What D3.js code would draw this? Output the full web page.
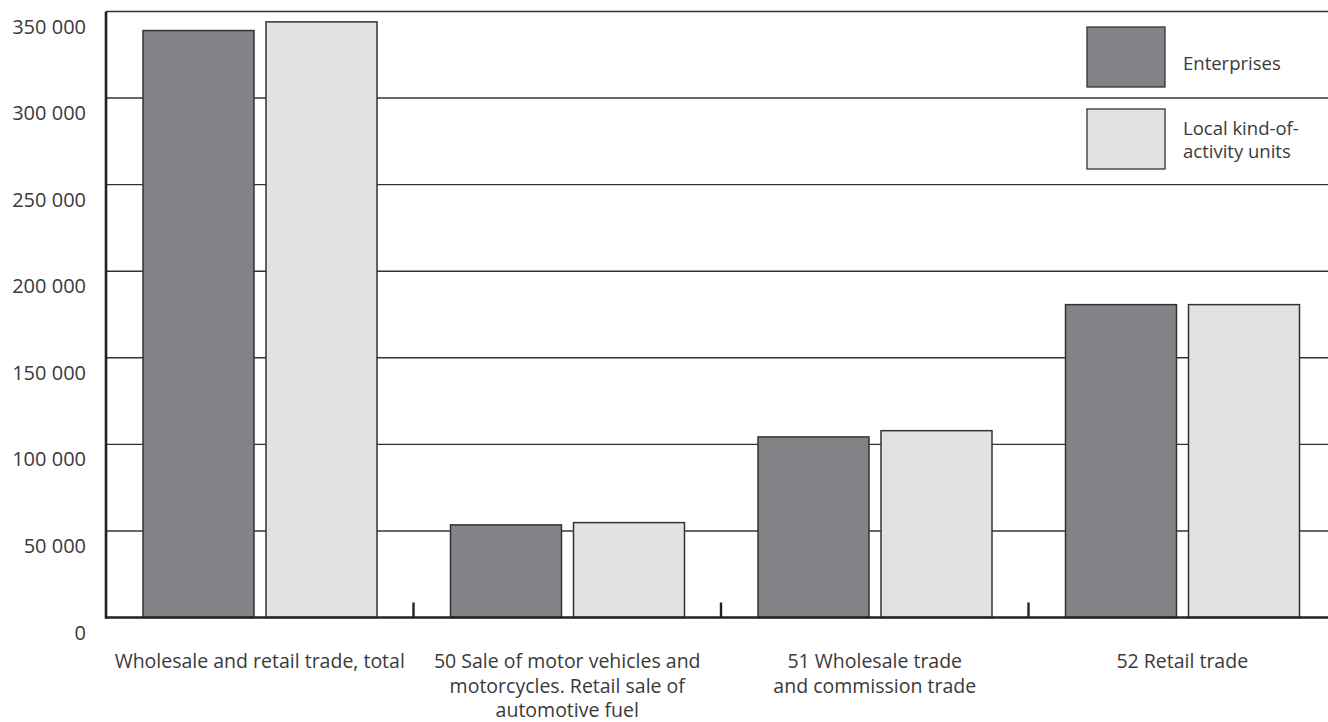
<!DOCTYPE html>
<html>
<head>
<meta charset="utf-8">
<script src="https://cdn.jsdelivr.net/npm/d3@7"></script>
<style>
  body { margin: 0; background: #fff; }
  text { font-family: "Open Sans", "Noto Sans", sans-serif; fill: #3a3a3a; }
</style>
</head>
<body>
<div id="chart"></div>
<script>
// Data
const categories = ["total", "50", "51", "52"];
const categoryLabels = [
  ["Wholesale and retail trade, total"],
  ["50 Sale of motor vehicles and", "motorcycles. Retail sale of", "automotive fuel"],
  ["51 Wholesale trade", "and commission trade"],
  ["52 Retail trade"]
];
const enterprises = [339000, 53500, 104300, 180700];
const localUnits = [344000, 54800, 107900, 180700];
const seriesNames = ["Enterprises", "Local kind-of-activity units"];
const legendLines = [["Enterprises"], ["Local kind-of-", "activity units"]];
const yTicks = [0, 50000, 100000, 150000, 200000, 250000, 300000, 350000];

const width = 1328, height = 722;
const margin = { top: 11.5, left: 106, bottom: 104.5 };
const plotRight = 1336;

const svg = d3.select("#chart").append("svg")
  .attr("width", width)
  .attr("height", height);

const x = d3.scaleBand().domain(categories).range([margin.left, plotRight]);
const sub = d3.scaleBand().domain(["ent", "loc"]).range([37, 271]).paddingInner(0.0976);
const y = d3.scaleLinear().domain([0, 350000]).range([height - margin.bottom, margin.top]);

const colors = { ent: "#828387", loc: "#e1e2e4" };

// gridlines (including top border)
svg.append("g").selectAll("line")
  .data(yTicks.filter(d => d > 0))
  .enter().append("line")
  .attr("x1", margin.left).attr("x2", plotRight)
  .attr("y1", d => y(d)).attr("y2", d => y(d))
  .attr("stroke", "#333").attr("stroke-width", 1.4);

// y labels
const fmt = d => d3.format(",")(d).replace(/,/g, " ");
svg.append("g").selectAll("text")
  .data(yTicks)
  .enter().append("text")
  .attr("x", 86)
  .attr("y", d => y(d) + 22)
  .attr("text-anchor", "end")
  .attr("font-size", "20px")
  .text(fmt);

// bars
const rows = categories.map((c, i) => ({ cat: c, ent: enterprises[i], loc: localUnits[i] }));
const groups = svg.append("g").selectAll("g")
  .data(rows)
  .enter().append("g")
  .attr("transform", d => "translate(" + x(d.cat) + ",0)");

groups.selectAll("rect")
  .data(d => ["ent", "loc"].map(k => ({ key: k, value: d[k] })))
  .enter().append("rect")
  .attr("x", d => sub(d.key))
  .attr("width", sub.bandwidth())
  .attr("y", d => y(d.value))
  .attr("height", d => y(0) - y(d.value))
  .attr("fill", d => colors[d.key])
  .attr("stroke", "#333")
  .attr("stroke-width", 1.5);

// axes
svg.append("line")
  .attr("x1", margin.left).attr("x2", margin.left)
  .attr("y1", y(350000)).attr("y2", y(0) + 1)
  .attr("stroke", "#222").attr("stroke-width", 2.6);
svg.append("line")
  .attr("x1", margin.left - 1).attr("x2", plotRight)
  .attr("y1", y(0)).attr("y2", y(0))
  .attr("stroke", "#222").attr("stroke-width", 2.6);

// category separator ticks
svg.append("g").selectAll("line")
  .data(categories.slice(1))
  .enter().append("line")
  .attr("x1", d => x(d)).attr("x2", d => x(d))
  .attr("y1", y(0) - 15).attr("y2", y(0))
  .attr("stroke", "#222").attr("stroke-width", 2.4);

// x labels
svg.append("g").selectAll("text")
  .data(categories)
  .enter().append("text")
  .attr("text-anchor", "middle")
  .attr("font-size", "19.5px")
  .attr("transform", d => "translate(" + (x(d) + x.bandwidth() / 2) + ",668)")
  .selectAll("tspan")
  .data((d, i) => categoryLabels[i])
  .enter().append("tspan")
  .attr("x", 0)
  .attr("y", (d, i) => i * 24.5)
  .text(d => d);

// legend
const legend = svg.append("g").selectAll("g")
  .data(seriesNames)
  .enter().append("g")
  .attr("transform", (d, i) => "translate(1087," + (27 + i * 82) + ")");

legend.append("rect")
  .attr("width", 78).attr("height", 60)
  .attr("fill", (d, i) => i === 0 ? colors.ent : colors.loc)
  .attr("stroke", "#333").attr("stroke-width", 1.3);

legend.append("text")
  .attr("font-size", "18.5px")
  .attr("transform", (d, i) => "translate(96," + (i === 0 ? 43 : 26) + ")")
  .selectAll("tspan")
  .data((d, i) => legendLines[i])
  .enter().append("tspan")
  .attr("x", 0)
  .attr("y", (d, i) => i * 23)
  .text(d => d);
</script>
</body>
</html>
